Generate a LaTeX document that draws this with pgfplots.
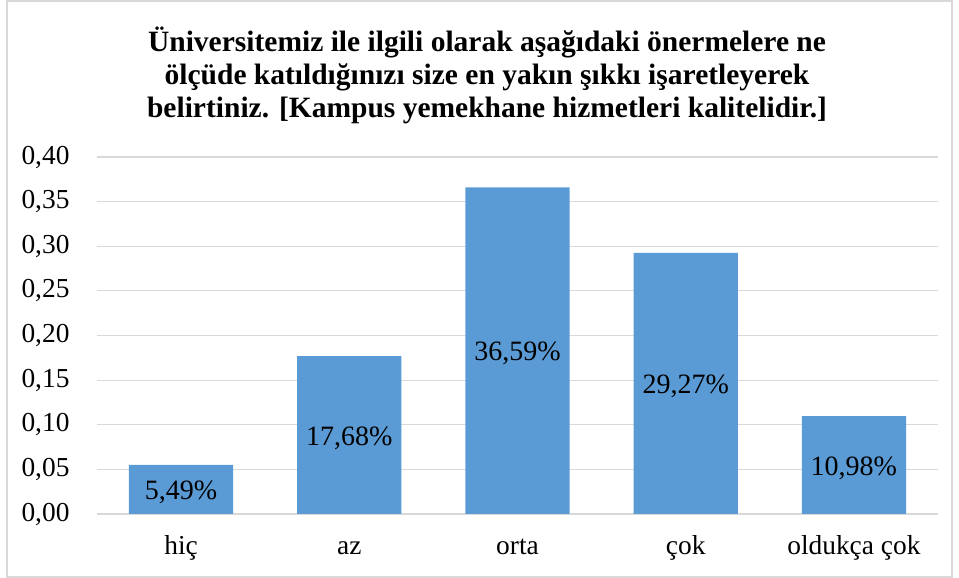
\documentclass[border=0pt]{standalone}
\usepackage{fontspec}
\setmainfont{Liberation Serif}
\usepackage{pgfplots}
\pgfplotsset{compat=1.18}
\usetikzlibrary{calc}
\definecolor{barblue}{HTML}{5B9BD5}
\definecolor{gridgray}{HTML}{D9D9D9}
\begin{document}
\begin{tikzpicture}[x=1pt,y=1pt]
\begin{axis}[
  name=ax,
  scale only axis, width=841pt, height=357pt,
  xmin=-0.5, xmax=4.5, ymin=0, ymax=0.40,
  ytick={0,0.05,...,0.41},
  xtick={0,1,2,3,4},
  xticklabels={hiç,az,orta,çok,oldukça çok},
  axis line style={draw=none},
  major tick length=0pt,
  ymajorgrids, grid style={gridgray, line width=1.2pt},
  yticklabel style={/pgf/number format/.cd, fixed, fixed zerofill, precision=2, use comma, /tikz/.cd, xshift=-24pt},
  /pgf/number format/assume math mode=true,
  ticklabel style={font=\fontsize{27.4}{30}\selectfont},
  xticklabel style={anchor=base, yshift=-41pt},
  every node near coord/.append style={font=\fontsize{28}{30}\selectfont, anchor=center, yshift={-446.25*\rawy-3}},
]
\addplot[ybar, bar width=0.62, fill=barblue, draw=none,
  point meta=explicit symbolic, nodes near coords,
  visualization depends on={y \as \rawy}]
  coordinates {(0,0.0549) [5,49\%] (1,0.1768) [17,68\%] (2,0.3659) [36,59\%] (3,0.2927) [29,27\%] (4,0.1098) [10,98\%]};
\end{axis}
\draw[gridgray, line width=1.2pt] ($(ax.south west)+(-90,-63)$) rectangle ($(ax.south west)+(855,513)$);
\node[align=center, font=\bfseries\fontsize{29.5}{33}\selectfont] at ($(ax.south west)+(390,439)$)
  {Üniversitemiz ile ilgili olarak aşağıdaki önermelere ne\\
   ölçüde katıldığınızı size en yakın şıkkı işaretleyerek\\
   belirtiniz. [Kampus yemekhane hizmetleri kalitelidir.]};
\pgfresetboundingbox
\useasboundingbox ($(ax.south west)+(-97,-64)$) rectangle ($(ax.south west)+(862,514)$);
\end{tikzpicture}
\end{document}
